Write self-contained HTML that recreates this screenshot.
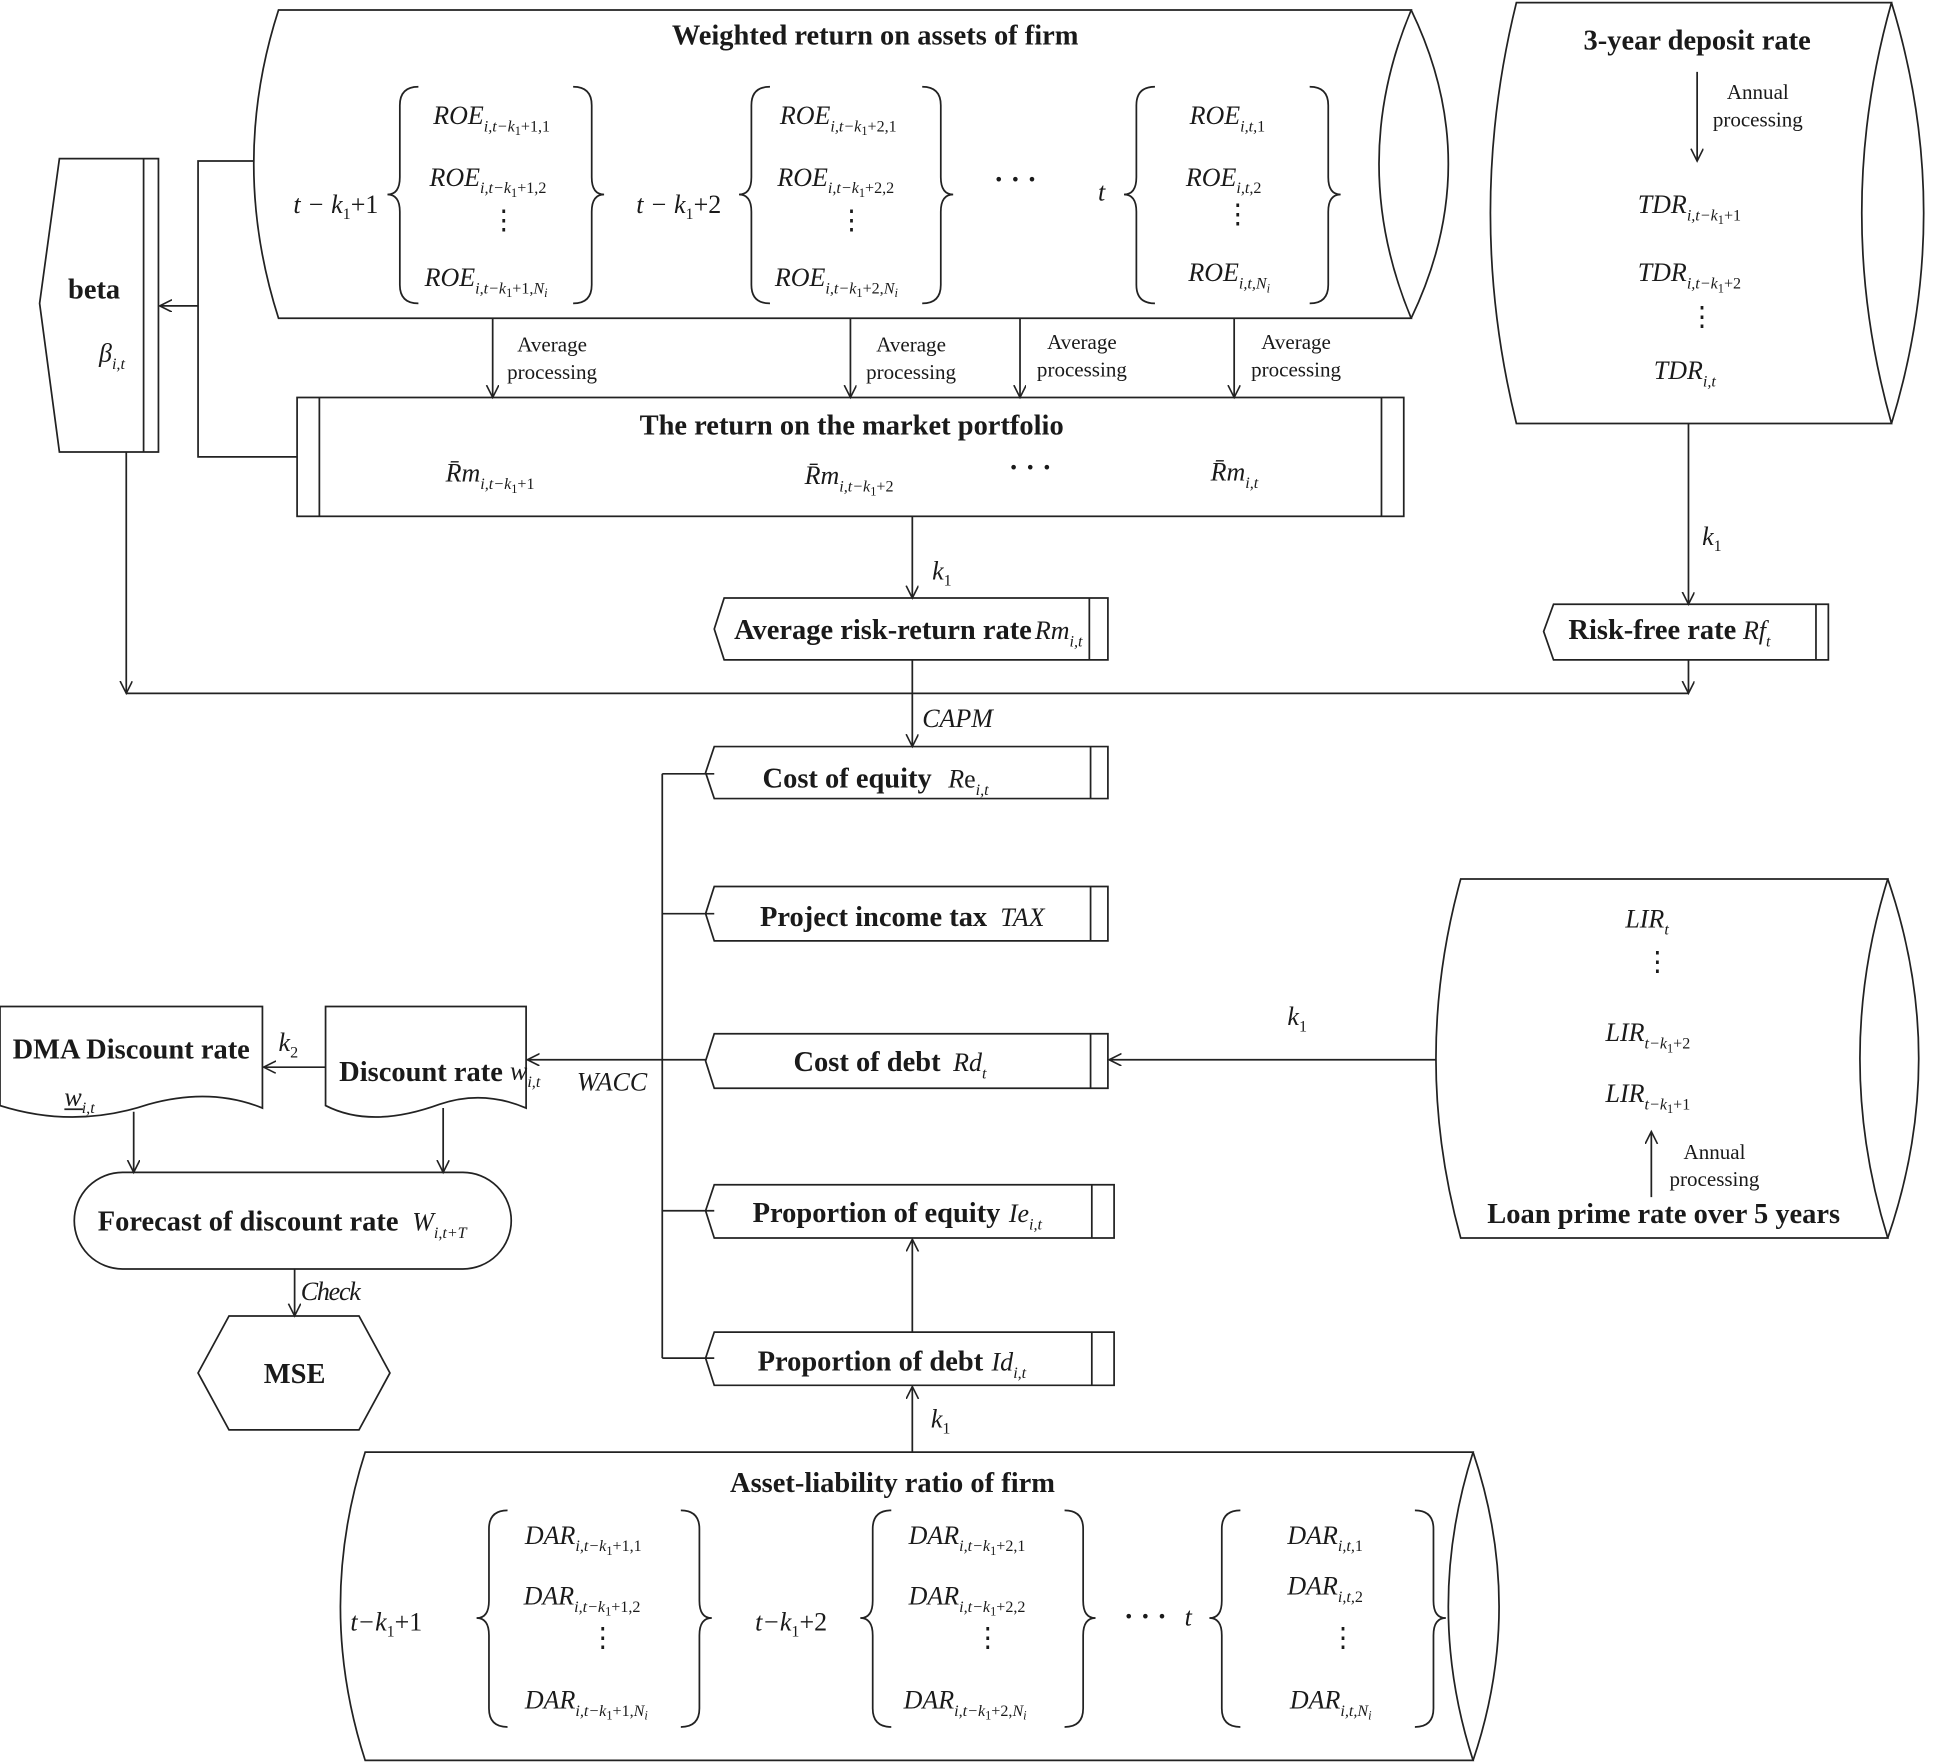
<!DOCTYPE html>
<html><head><meta charset="utf-8"><style>
html,body{margin:0;padding:0;background:#fff}
svg{display:block}
text{font-family:"Liberation Serif",serif;fill:#1a1a1a}
.b{font-weight:bold;font-size:23px}
.m{font-style:italic;font-size:21px}
.s{font-size:13px}
.ss{font-size:10px}
.n{font-size:17px}
.d{font-style:normal;font-size:22px}
path,line,rect,polyline,polygon{fill:none;stroke:#222;stroke-width:1.4}
</style></head><body>
<svg width="1941" height="1763" viewBox="0 0 1568 1424" xmlns="http://www.w3.org/2000/svg">
<defs><marker id="a" markerWidth="12" markerHeight="12" refX="10" refY="5" orient="auto" markerUnits="userSpaceOnUse"><path d="M0,0 L10,5 L0,10" style="stroke:#222;fill:none;stroke-width:1.3"/></marker></defs>

<!-- Top cylinder -->
<path d="M225,8 L1140,8 Q1088,132 1140,257 L225,257 Q185,132 225,8 Z"/>
<path d="M1140,8 Q1200,132 1140,257"/>
<text class="b" x="707" y="36" text-anchor="middle">Weighted return on assets of firm</text>
<g>
<path d="M338,70 Q323,70 323,85 L323,143 Q323,157 313,157 Q323,157 323,171 L323,230 Q323,245 338,245"/>
<path d="M463,70 Q478,70 478,85 L478,143 Q478,157 488,157 Q478,157 478,171 L478,230 Q478,245 463,245"/>
<path d="M622,70 Q607,70 607,85 L607,143 Q607,157 597,157 Q607,157 607,171 L607,230 Q607,245 622,245"/>
<path d="M745,70 Q760,70 760,85 L760,143 Q760,157 770,157 Q760,157 760,171 L760,230 Q760,245 745,245"/>
<path d="M933,70 Q918,70 918,85 L918,143 Q918,157 908,157 Q918,157 918,171 L918,230 Q918,245 933,245"/>
<path d="M1058,70 Q1073,70 1073,85 L1073,143 Q1073,157 1083,157 Q1073,157 1073,171 L1073,230 Q1073,245 1058,245"/>
</g>
<text class="m" x="237" y="172">t − k<tspan class="s" dy="5" font-style="normal">1</tspan><tspan dy="-5" font-style="normal">+1</tspan></text>
<text class="m" x="514" y="172">t − k<tspan class="s" dy="5" font-style="normal">1</tspan><tspan dy="-5" font-style="normal">+2</tspan></text>
<text class="b" x="803" y="152" font-size="22">· · ·</text>
<text class="m" x="887" y="162">t</text>
<text class="m" x="350" y="100">ROE<tspan class="s" dy="6">i,t−k</tspan><tspan class="ss" dy="3" font-style="normal">1</tspan><tspan class="s" dy="-3" font-style="normal">+1,1</tspan></text>
<text class="m" x="347" y="150">ROE<tspan class="s" dy="6">i,t−k</tspan><tspan class="ss" dy="3" font-style="normal">1</tspan><tspan class="s" dy="-3" font-style="normal">+1,2</tspan></text>
<text class="d" x="396" y="185">⋮</text>
<text class="m" x="343" y="231">ROE<tspan class="s" dy="6">i,t−k</tspan><tspan class="ss" dy="3" font-style="normal">1</tspan><tspan class="s" dy="-3" font-style="normal">+1,</tspan><tspan class="s" font-style="italic">N</tspan><tspan class="ss" dy="3">i</tspan></text>
<text class="m" x="630" y="100">ROE<tspan class="s" dy="6">i,t−k</tspan><tspan class="ss" dy="3" font-style="normal">1</tspan><tspan class="s" dy="-3" font-style="normal">+2,1</tspan></text>
<text class="m" x="628" y="150">ROE<tspan class="s" dy="6">i,t−k</tspan><tspan class="ss" dy="3" font-style="normal">1</tspan><tspan class="s" dy="-3" font-style="normal">+2,2</tspan></text>
<text class="d" x="677" y="185">⋮</text>
<text class="m" x="626" y="231">ROE<tspan class="s" dy="6">i,t−k</tspan><tspan class="ss" dy="3" font-style="normal">1</tspan><tspan class="s" dy="-3" font-style="normal">+2,</tspan><tspan class="s">N</tspan><tspan class="ss" dy="3">i</tspan></text>
<text class="m" x="961" y="100">ROE<tspan class="s" dy="6">i,t,<tspan font-style="normal">1</tspan></tspan></text>
<text class="m" x="958" y="150">ROE<tspan class="s" dy="6">i,t,<tspan font-style="normal">2</tspan></tspan></text>
<text class="d" x="989" y="180">⋮</text>
<text class="m" x="960" y="227">ROE<tspan class="s" dy="6">i,t,N</tspan><tspan class="ss" dy="3">i</tspan></text>

<!-- 3-year deposit cylinder -->
<path d="M1225,2 L1528,2 Q1480,172 1528,342 L1225,342 Q1183,172 1225,2 Z"/>
<path d="M1528,2 Q1580,172 1528,342"/>
<text class="b" x="1371" y="40" text-anchor="middle">3-year deposit rate</text>
<line x1="1371" y1="58" x2="1371" y2="130" marker-end="url(#a)"/>
<text class="n" x="1420" y="80" text-anchor="middle">Annual</text>
<text class="n" x="1420" y="102" text-anchor="middle">processing</text>
<text class="m" x="1323" y="172">TDR<tspan class="s" dy="6">i,t−k</tspan><tspan class="ss" dy="3" font-style="normal">1</tspan><tspan class="s" dy="-3" font-style="normal">+1</tspan></text>
<text class="m" x="1323" y="227">TDR<tspan class="s" dy="6">i,t−k</tspan><tspan class="ss" dy="3" font-style="normal">1</tspan><tspan class="s" dy="-3" font-style="normal">+2</tspan></text>
<text class="d" x="1364" y="263">⋮</text>
<text class="m" x="1336" y="306">TDR<tspan class="s" dy="6">i,t</tspan></text>

<!-- beta -->
<polygon points="48,128 128,128 128,365 48,365 32,245 48,128"/>
<line x1="116" y1="128" x2="116" y2="365"/>
<text class="b" x="76" y="241" text-anchor="middle">beta</text>
<text class="m" x="80" y="292">β<tspan class="s" dy="6">i,t</tspan></text>

<polyline points="205,130 160,130 160,369 240,369"/>
<line x1="160" y1="247" x2="129" y2="247" marker-end="url(#a)"/>
<line x1="102" y1="365" x2="102" y2="560" marker-end="url(#a)"/>
<line x1="102" y1="560" x2="1364" y2="560"/>
<line x1="398" y1="257" x2="398" y2="321" marker-end="url(#a)"/>
<line x1="687" y1="257" x2="687" y2="321" marker-end="url(#a)"/>
<line x1="824" y1="257" x2="824" y2="321" marker-end="url(#a)"/>
<line x1="997" y1="257" x2="997" y2="321" marker-end="url(#a)"/>
<text class="n" x="446" y="284" text-anchor="middle">Average</text><text class="n" x="446" y="306" text-anchor="middle">processing</text>
<text class="n" x="736" y="284" text-anchor="middle">Average</text><text class="n" x="736" y="306" text-anchor="middle">processing</text>
<text class="n" x="874" y="282" text-anchor="middle">Average</text><text class="n" x="874" y="304" text-anchor="middle">processing</text>
<text class="n" x="1047" y="282" text-anchor="middle">Average</text><text class="n" x="1047" y="304" text-anchor="middle">processing</text>

<!-- market portfolio -->
<rect x="240" y="321" width="894" height="96"/>
<line x1="258" y1="321" x2="258" y2="417"/><line x1="1116" y1="321" x2="1116" y2="417"/>
<text class="b" x="688" y="351" text-anchor="middle">The return on the market portfolio</text>
<text class="m" x="360" y="389">R̄m<tspan class="s" dy="6">i,t−k</tspan><tspan class="ss" dy="3" font-style="normal">1</tspan><tspan class="s" dy="-3" font-style="normal">+1</tspan></text>
<text class="m" x="650" y="391">R̄m<tspan class="s" dy="6">i,t−k</tspan><tspan class="ss" dy="3" font-style="normal">1</tspan><tspan class="s" dy="-3" font-style="normal">+2</tspan></text>
<text class="b" x="815" y="385" font-size="22">· · ·</text>
<text class="m" x="978" y="388">R̄m<tspan class="s" dy="6">i,t</tspan></text>

<line x1="737" y1="417" x2="737" y2="483" marker-end="url(#a)"/>
<text class="m" x="753" y="468">k<tspan class="s" dy="5" font-style="normal">1</tspan></text>

<polygon points="585,483 895,483 895,533 585,533 577,508"/>
<line x1="880" y1="483" x2="880" y2="533"/>
<text class="b" x="593" y="516">Average risk-return rate</text>
<text class="m" x="836" y="516">Rm<tspan class="s" dy="6">i,t</tspan></text>
<line x1="737" y1="533" x2="737" y2="603" marker-end="url(#a)"/>
<text class="m" x="745" y="587" font-size="19">CAPM</text>

<line x1="1364" y1="342" x2="1364" y2="488" marker-end="url(#a)"/>
<text class="m" x="1375" y="440">k<tspan class="s" dy="5" font-style="normal">1</tspan></text>
<polygon points="1255,488 1477,488 1477,533 1255,533 1247,510"/>
<line x1="1467" y1="488" x2="1467" y2="533"/>
<text class="b" x="1267" y="516">Risk-free rate</text>
<text class="m" x="1408" y="516">Rf<tspan class="s" dy="6">t</tspan></text>
<line x1="1364" y1="533" x2="1364" y2="560" marker-end="url(#a)"/>

<line x1="535" y1="625" x2="535" y2="1097"/>
<line x1="535" y1="625" x2="577" y2="625"/>
<line x1="535" y1="738" x2="577" y2="738"/>
<line x1="535" y1="978" x2="577" y2="978"/>
<line x1="535" y1="1097" x2="577" y2="1097"/>

<polygon points="577,603 895,603 895,645 577,645 570,624"/>
<line x1="881" y1="603" x2="881" y2="645"/>
<text class="b" x="616" y="636">Cost of equity</text>
<text class="m" x="766" y="636">R<tspan font-style="normal">e</tspan><tspan class="s" dy="6">i,t</tspan></text>

<polygon points="577,716 895,716 895,760 577,760 570,738"/>
<line x1="881" y1="716" x2="881" y2="760"/>
<text class="b" x="614" y="748">Project income tax</text>
<text class="m" x="808" y="748">TAX</text>

<polygon points="577,835 895,835 895,879 577,879 570,857"/>
<line x1="881" y1="835" x2="881" y2="879"/>
<text class="b" x="641" y="865">Cost of debt</text>
<text class="m" x="770" y="865">Rd<tspan class="s" dy="6">t</tspan></text>

<polygon points="577,957 900,957 900,1000 577,1000 570,978"/>
<line x1="882" y1="957" x2="882" y2="1000"/>
<text class="b" x="608" y="987">Proportion of equity</text>
<text class="m" x="815" y="987">Ie<tspan class="s" dy="6">i,t</tspan></text>

<polygon points="577,1076 900,1076 900,1119 577,1119 570,1097"/>
<line x1="882" y1="1076" x2="882" y2="1119"/>
<text class="b" x="612" y="1107">Proportion of debt</text>
<text class="m" x="801" y="1107">Id<tspan class="s" dy="6">i,t</tspan></text>

<line x1="737" y1="1076" x2="737" y2="1001" marker-end="url(#a)"/>
<line x1="737" y1="1173" x2="737" y2="1120" marker-end="url(#a)"/>
<text class="m" x="752" y="1153">k<tspan class="s" dy="5" font-style="normal">1</tspan></text>

<line x1="570" y1="856" x2="426" y2="856" marker-end="url(#a)"/>
<text class="m" x="466" y="881" font-size="19">WACC</text>

<!-- LIR cylinder -->
<path d="M1180,710 L1525,710 Q1480,855 1525,1000 L1180,1000 Q1140,855 1180,710 Z"/>
<path d="M1525,710 Q1575,855 1525,1000"/>
<line x1="1160" y1="856" x2="896" y2="856" marker-end="url(#a)"/>
<text class="m" x="1040" y="828">k<tspan class="s" dy="5" font-style="normal">1</tspan></text>
<text class="m" x="1313" y="749">LIR<tspan class="s" dy="6">t</tspan></text>
<text class="d" x="1328" y="784">⋮</text>
<text class="m" x="1297" y="841">LIR<tspan class="s" dy="6">t−k</tspan><tspan class="ss" dy="3" font-style="normal">1</tspan><tspan class="s" dy="-3" font-style="normal">+2</tspan></text>
<text class="m" x="1297" y="890">LIR<tspan class="s" dy="6">t−k</tspan><tspan class="ss" dy="3" font-style="normal">1</tspan><tspan class="s" dy="-3" font-style="normal">+1</tspan></text>
<line x1="1334" y1="967" x2="1334" y2="914" marker-end="url(#a)"/>
<text class="n" x="1385" y="936" text-anchor="middle">Annual</text>
<text class="n" x="1385" y="958" text-anchor="middle">processing</text>
<text class="b" x="1344" y="988" text-anchor="middle">Loan prime rate over 5 years</text>

<!-- DMA & discount docs -->
<path d="M0,813 L212,813 L212,895 Q170,878 120,892 Q60,912 0,893 Z"/>
<text class="b" x="106" y="855" text-anchor="middle">DMA Discount rate</text>
<text class="m" x="52" y="893">w<tspan class="s" dy="6">i,t</tspan></text>
<line x1="52" y1="896" x2="67" y2="896"/>
<path d="M263,813 L425,813 L425,895 Q390,880 355,892 Q300,912 263,893 Z"/>
<text class="b" x="274" y="873">Discount rate</text>
<text class="m" x="412" y="872">w<tspan class="s" dy="6">i,t</tspan></text>
<line x1="263" y1="862" x2="213" y2="862" marker-end="url(#a)"/>
<text class="m" x="225" y="849">k<tspan class="s" dy="5" font-style="normal">2</tspan></text>
<line x1="108" y1="898" x2="108" y2="947" marker-end="url(#a)"/>
<line x1="358" y1="895" x2="358" y2="947" marker-end="url(#a)"/>

<rect x="60" y="947" width="353" height="78" rx="39"/>
<text class="b" x="79" y="994">Forecast of discount rate</text>
<text class="m" x="333" y="994">W<tspan class="s" dy="6">i,t+T</tspan></text>
<line x1="238" y1="1025" x2="238" y2="1063" marker-end="url(#a)"/>
<text class="m" x="243" y="1050" font-size="18" letter-spacing="-1">Check</text>
<polygon points="185,1063 290,1063 315,1109 290,1155 185,1155 160,1109"/>
<text class="b" x="238" y="1117" text-anchor="middle">MSE</text>

<!-- bottom cylinder -->
<path d="M295,1173 L1190,1173 Q1150,1298 1190,1422 L295,1422 Q255,1298 295,1173 Z"/>
<path d="M1190,1173 Q1232,1298 1190,1422"/>
<text class="b" x="721" y="1205" text-anchor="middle">Asset-liability ratio of firm</text>
<path d="M410,1220 Q395,1220 395,1235 L395,1293 Q395,1307 385,1307 Q395,1307 395,1321 L395,1380 Q395,1395 410,1395"/>
<path d="M550,1220 Q565,1220 565,1235 L565,1293 Q565,1307 575,1307 Q565,1307 565,1321 L565,1380 Q565,1395 550,1395"/>
<path d="M720,1220 Q705,1220 705,1235 L705,1293 Q705,1307 695,1307 Q705,1307 705,1321 L705,1380 Q705,1395 720,1395"/>
<path d="M860,1220 Q875,1220 875,1235 L875,1293 Q875,1307 885,1307 Q875,1307 875,1321 L875,1380 Q875,1395 860,1395"/>
<path d="M1002,1220 Q987,1220 987,1235 L987,1293 Q987,1307 977,1307 Q987,1307 987,1321 L987,1380 Q987,1395 1002,1395"/>
<path d="M1143,1220 Q1158,1220 1158,1235 L1158,1293 Q1158,1307 1168,1307 Q1158,1307 1158,1321 L1158,1380 Q1158,1395 1143,1395"/>
<text class="m" x="283" y="1317" font-size="24">t−k<tspan class="s" dy="5" font-style="normal">1</tspan><tspan dy="-5" font-style="normal">+1</tspan></text>
<text class="m" x="610" y="1317" font-size="24">t−k<tspan class="s" dy="5" font-style="normal">1</tspan><tspan dy="-5" font-style="normal">+2</tspan></text>
<text class="b" x="908" y="1313" font-size="22">· · ·</text>
<text class="m" x="957" y="1313">t</text>
<text class="m" x="424" y="1247">DAR<tspan class="s" dy="6">i,t−k</tspan><tspan class="ss" dy="3" font-style="normal">1</tspan><tspan class="s" dy="-3" font-style="normal">+1,1</tspan></text>
<text class="m" x="423" y="1296">DAR<tspan class="s" dy="6">i,t−k</tspan><tspan class="ss" dy="3" font-style="normal">1</tspan><tspan class="s" dy="-3" font-style="normal">+1,2</tspan></text>
<text class="d" x="476" y="1330">⋮</text>
<text class="m" x="424" y="1380">DAR<tspan class="s" dy="6">i,t−k</tspan><tspan class="ss" dy="3" font-style="normal">1</tspan><tspan class="s" dy="-3" font-style="normal">+1,</tspan><tspan class="s">N</tspan><tspan class="ss" dy="3">i</tspan></text>
<text class="m" x="734" y="1247">DAR<tspan class="s" dy="6">i,t−k</tspan><tspan class="ss" dy="3" font-style="normal">1</tspan><tspan class="s" dy="-3" font-style="normal">+2,1</tspan></text>
<text class="m" x="734" y="1296">DAR<tspan class="s" dy="6">i,t−k</tspan><tspan class="ss" dy="3" font-style="normal">1</tspan><tspan class="s" dy="-3" font-style="normal">+2,2</tspan></text>
<text class="d" x="787" y="1330">⋮</text>
<text class="m" x="730" y="1380">DAR<tspan class="s" dy="6">i,t−k</tspan><tspan class="ss" dy="3" font-style="normal">1</tspan><tspan class="s" dy="-3" font-style="normal">+2,</tspan><tspan class="s">N</tspan><tspan class="ss" dy="3">i</tspan></text>
<text class="m" x="1040" y="1247">DAR<tspan class="s" dy="6">i,t,<tspan font-style="normal">1</tspan></tspan></text>
<text class="m" x="1040" y="1288">DAR<tspan class="s" dy="6">i,t,<tspan font-style="normal">2</tspan></tspan></text>
<text class="d" x="1074" y="1330">⋮</text>
<text class="m" x="1042" y="1380">DAR<tspan class="s" dy="6">i,t,N</tspan><tspan class="ss" dy="3">i</tspan></text>
</svg>
</body></html>
